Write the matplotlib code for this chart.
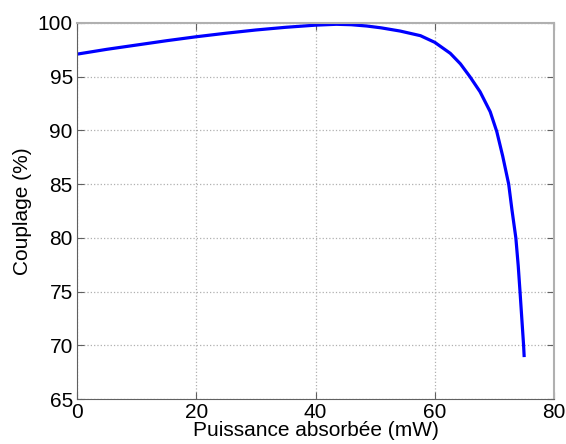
import matplotlib
matplotlib.use("Agg")
import matplotlib.pyplot as plt
import numpy as np

plt.rcParams['font.family'] = ['Liberation Sans', 'DejaVu Sans']

puissance = [0, 5, 10, 15, 20, 25, 30, 35, 40, 43.5, 46, 48.6, 51, 54.2, 57.6, 60,
             62.6, 64.3, 65.9, 67.6, 69.3, 70.4, 71.4, 72.4, 72.95, 73.6, 74.0, 74.3,
             74.6, 74.9, 75.0]
couplage = [97.1, 97.55, 97.95, 98.35, 98.72, 99.05, 99.35, 99.6, 99.8, 99.88, 99.84,
            99.72, 99.55, 99.25, 98.82, 98.2, 97.18, 96.2, 95.0, 93.6, 91.74, 89.9,
            87.6, 85.0, 82.6, 80.0, 77.4, 75.0, 72.5, 70.0, 68.9]
xticks = [0, 20, 40, 60, 80]
yticks = [65, 70, 75, 80, 85, 90, 95, 100]

fig = plt.figure(figsize=(5.66, 4.44), dpi=100)
ax = fig.add_axes([77/566, 45/444, (554-77)/566, (399-23)/444])
ax.plot(puissance, couplage, color='#0000ff', lw=2.3, solid_capstyle='butt',
        solid_joinstyle='round')
ax.set_xlim(0, 80)
ax.set_ylim(65, 100)
ax.set_xticks(xticks)
ax.set_yticks(yticks)
ax.grid(True, linestyle=':', color='#b0b0b0', lw=0.9)
ax.tick_params(direction='in', top=True, right=True, labelsize=15, length=5,
               color='#606060', pad=3)
for s in ['left', 'bottom']:
    ax.spines[s].set_color('#606060')
for s in ['top', 'right']:
    ax.spines[s].set_color('#b0b0b0')
    ax.spines[s].set_linewidth(1.5)
ax.set_xlabel('Puissance absorbée (mW)', fontsize=15, labelpad=-1)
ax.set_ylabel('Couplage (%)', fontsize=15, labelpad=4)
fig.savefig('out.png', dpi=100)
